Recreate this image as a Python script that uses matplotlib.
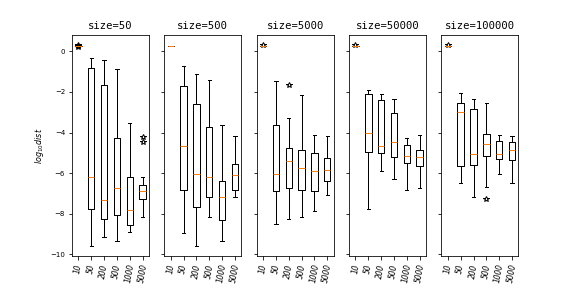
import matplotlib
matplotlib.use("Agg")
import matplotlib.pyplot as plt

sizes = [50, 500, 5000, 50000, 100000]
labels = ['10', '50', '200', '500', '1000', '5000']

medians = [
    [0.25, -6.17, -7.32, -6.72, -7.82, -6.87],
    [0.28, -4.67, -6.05, -6.20, -7.16, -6.10],
    [0.28, -6.05, -5.40, -5.75, -5.90, -5.85],
    [0.28, -4.00, -4.65, -4.45, -5.15, -5.20],
    [0.28, -2.99, -5.05, -4.55, -5.05, -4.85],
]
q1s = [
    [0.25, -7.77, -8.27, -8.07, -8.57, -7.27],
    [0.28, -6.81, -7.69, -7.16, -8.31, -6.81],
    [0.28, -6.86, -6.71, -6.81, -6.86, -6.40],
    [0.28, -4.95, -5.00, -5.20, -5.50, -5.65],
    [0.28, -5.65, -5.60, -5.15, -5.30, -5.35],
]
q3s = [
    [0.25, -0.82, -1.67, -4.25, -6.17, -6.57],
    [0.28, -1.69, -2.59, -3.75, -6.40, -5.55],
    [0.28, -3.65, -4.75, -4.85, -5.00, -5.25],
    [0.28, -2.09, -2.39, -3.04, -4.60, -4.85],
    [0.28, -2.54, -2.84, -4.05, -4.40, -4.45],
]
whislos = [
    [0.25, -9.60, -9.15, -9.32, -8.92, -8.15],
    [0.28, -8.96, -9.57, -8.16, -9.36, -7.16],
    [0.28, -8.51, -8.26, -8.16, -7.86, -7.06],
    [0.28, -7.76, -5.90, -6.30, -6.81, -6.71],
    [0.28, -6.50, -7.16, -6.66, -6.05, -6.50],
]
whishis = [
    [0.25, -0.32, -0.42, -0.87, -3.53, -6.17],
    [0.28, -0.74, -1.10, -1.39, -3.65, -4.16],
    [0.28, -1.44, -3.29, -2.14, -4.10, -4.15],
    [0.28, -1.89, -2.09, -2.34, -4.25, -4.10],
    [0.28, -2.04, -2.34, -2.54, -4.10, -4.15],
]
fliers = [
    [[0.33, 0.22, 0.27], [], [], [], [], [-4.22, -4.45]],
    [[], [], [], [], [], []],
    [[0.31], [], [-1.67], [], [], []],
    [[0.32], [], [], [], [], []],
    [[0.32], [], [], [-7.27], [], []],
]

fig, axes = plt.subplots(1, 5, sharey=True, figsize=(8, 4), dpi=72)

for k, ax in enumerate(axes):
    stats = []
    for j, lab in enumerate(labels):
        stats.append(dict(med=medians[k][j], q1=q1s[k][j], q3=q3s[k][j],
                          whislo=whislos[k][j], whishi=whishis[k][j],
                          fliers=fliers[k][j], label=lab))
    ax.bxp(stats,
           flierprops=dict(marker='*', markerfacecolor='none',
                           markeredgecolor='black', markersize=6),
           boxprops=dict(linewidth=1), whiskerprops=dict(linewidth=1),
           capprops=dict(linewidth=1),
           medianprops=dict(color='#ff7f0e', linewidth=1))
    ax.set_title(f'size={sizes[k]}', fontsize=10.5, family='DejaVu Sans Mono')
    ax.tick_params(axis='y', labelsize=7)
    for t in ax.get_xticklabels():
        t.set_rotation(80)
        t.set_fontsize(7.5)
        t.set_fontstyle('italic')

axes[0].set_ylabel(r'$log_{10}dist$', fontsize=8)
axes[0].set_yticks([0, -2, -4, -6, -8, -10])

fig.savefig('out.png', dpi=72)
